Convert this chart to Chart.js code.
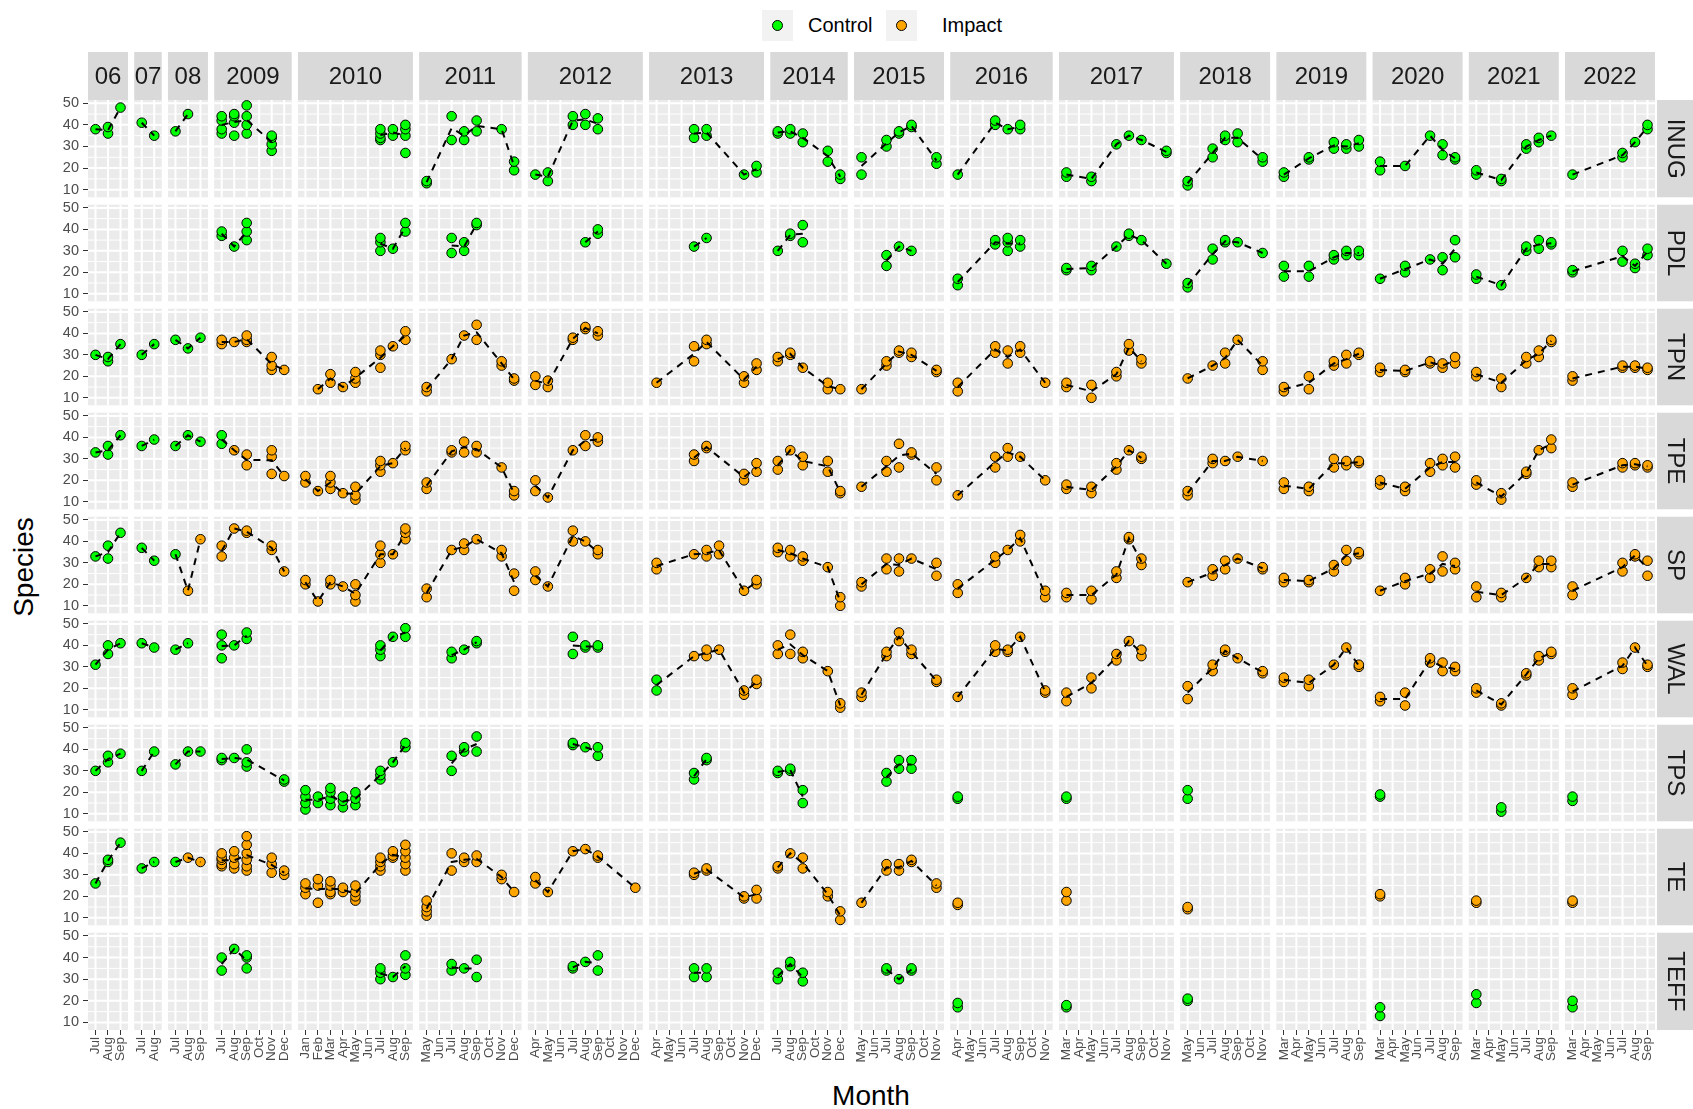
<!DOCTYPE html>
<html>
<head>
<meta charset="utf-8">
<script src="https://cdn.jsdelivr.net/npm/chart.js"></script>
<style>
  body { margin: 0; background: #ffffff; }
  #wrap { position: relative; width: 1693px; height: 1109px; overflow: hidden; background: #ffffff;
          font-family: "Liberation Sans", Arial, sans-serif; }
  #wrap canvas { position: absolute; left: 0; }
  .key { position: absolute; top: 10px; width: 31px; height: 31px; background: #F2F2F2; }
  .key span { position: absolute; left: 10px; top: 10px; width: 9px; height: 9px; border-radius: 50%; border: 1px solid #000; }
  .ltxt { position: absolute; top: 12px; font-size: 20px; color: #000; line-height: 26px; }
  .title { position: absolute; font-size: 28px; color: #000; white-space: nowrap; }
</style>
</head>
<body>
<div id="wrap">
  <div class="key" style="left:762px"><span style="background:#00FF00"></span></div>
  <div class="ltxt" style="left:808px">Control</div>
  <div class="key" style="left:886px"><span style="background:#FFA500"></span></div>
  <div class="ltxt" style="left:942px">Impact</div>
  <div class="title" style="left:24px;top:567px;transform:translate(-50%,-50%) rotate(-90deg)">Species</div>
  <div class="title" style="left:871px;top:1096px;transform:translate(-50%,-50%)">Month</div>
</div>
<script>
// facets
var years = ['06','07','08','2009','2010','2011','2012','2013','2014','2015','2016','2017','2018','2019','2020','2021','2022'];
var yearMonths = [
  ['Jul','Aug','Sep'], ['Jul','Aug'], ['Jul','Aug','Sep'],
  ['Jul','Aug','Sep','Oct','Nov','Dec'],
  ['Jan','Feb','Mar','Apr','May','Jun','Jul','Aug','Sep'],
  ['May','Jun','Jul','Aug','Sep','Oct','Nov','Dec'],
  ['Apr','May','Jun','Jul','Aug','Sep','Oct','Nov','Dec'],
  ['Apr','May','Jun','Jul','Aug','Sep','Oct','Nov','Dec'],
  ['Jul','Aug','Sep','Oct','Nov','Dec'],
  ['May','Jun','Jul','Aug','Sep','Oct','Nov'],
  ['Apr','May','Jun','Jul','Aug','Sep','Oct','Nov'],
  ['Mar','Apr','May','Jun','Jul','Aug','Sep','Oct','Nov'],
  ['May','Jun','Jul','Aug','Sep','Oct','Nov'],
  ['Mar','Apr','May','Jun','Jul','Aug','Sep'],
  ['Mar','Apr','May','Jun','Jul','Aug','Sep'],
  ['Mar','Apr','May','Jun','Jul','Aug','Sep'],
  ['Mar','Apr','May','Jun','Jul','Aug','Sep']
];
var sites = ['INUG','PDL','TPN','TPE','SP','WAL','TPS','TE','TEFF'];
var yTicks = [10, 20, 30, 40, 50];
var yMinor = [15, 25, 35, 45];

// first survey that counts as Impact, per site (null = always Control)
var impactFrom = { INUG: null, PDL: null, TPN: ['2009','Jul'], TPE: ['2009','Aug'], SP: ['08','Aug'],
                   WAL: ['2013','Jul'], TPS: null, TE: ['08','Aug'], TEFF: null };

// species counts: [year, month, samples]
var INUG = [
  ['06','Jul',[38]],['06','Aug',[36,39]],['06','Sep',[48]],
  ['07','Jul',[41]],['07','Aug',[35]],
  ['08','Jul',[37]],['08','Aug',[45]],
  ['2009','Jul',[36,38,42,44]],['2009','Aug',[35,41,44,45]],['2009','Sep',[36,40,44,49]],['2009','Nov',[28,31,34,35]],
  ['2010','Jul',[33,34,36,38]],['2010','Aug',[35,38]],['2010','Sep',[27,35,38,40]],
  ['2011','May',[13,14]],['2011','Jul',[33,44]],['2011','Aug',[33,37]],['2011','Sep',[37,42]],['2011','Nov',[38]],['2011','Dec',[19,23]],
  ['2012','Apr',[17]],['2012','May',[14,18]],['2012','Jul',[40,44]],['2012','Aug',[40,45]],['2012','Sep',[38,43]],
  ['2013','Jul',[34,38]],['2013','Aug',[35,38]],['2013','Nov',[17]],['2013','Dec',[18,21]],
  ['2014','Jul',[36,37]],['2014','Aug',[36,38]],['2014','Sep',[32,36]],['2014','Nov',[23,28]],['2014','Dec',[15,17]],
  ['2015','May',[17,25]],['2015','Jul',[30,33]],['2015','Aug',[36,37]],['2015','Sep',[39,40]],['2015','Nov',[22,25]],
  ['2016','Apr',[17]],['2016','Jul',[40,42]],['2016','Aug',[38]],['2016','Sep',[38,40]],
  ['2017','Mar',[16,18]],['2017','May',[14,16]],['2017','Jul',[31]],['2017','Aug',[35]],['2017','Sep',[33]],['2017','Nov',[27,28]],
  ['2018','May',[12,14]],['2018','Jul',[25,29]],['2018','Aug',[33,35]],['2018','Sep',[32,36]],['2018','Nov',[23,25]],
  ['2019','Mar',[16,18]],['2019','May',[24,25]],['2019','Jul',[29,32]],['2019','Aug',[29,31]],['2019','Sep',[30,33]],
  ['2020','Mar',[19,23]],['2020','May',[21]],['2020','Jul',[35]],['2020','Aug',[26,31]],['2020','Sep',[24,25]],
  ['2021','Mar',[17,19]],['2021','May',[14,15]],['2021','Jul',[29,31]],['2021','Aug',[32,34]],['2021','Sep',[35]],
  ['2022','Mar',[17]],['2022','Jul',[25,27]],['2022','Aug',[32]],['2022','Sep',[38,40]]
];
var PDL = [
  ['2009','Jul',[37,39]],['2009','Aug',[32]],['2009','Sep',[35,39,43]],
  ['2010','Jul',[30,34,36]],['2010','Aug',[31]],['2010','Sep',[39,43]],
  ['2011','Jul',[29,36]],['2011','Aug',[30,34]],['2011','Sep',[42,43]],
  ['2012','Aug',[34]],['2012','Sep',[38,40]],
  ['2013','Jul',[32]],['2013','Aug',[36]],
  ['2014','Jul',[30]],['2014','Aug',[37,38]],['2014','Sep',[34,42]],
  ['2015','Jul',[23,28]],['2015','Aug',[32]],['2015','Sep',[30]],
  ['2016','Apr',[14,17]],['2016','Jul',[33,35]],['2016','Aug',[30,34,36]],['2016','Sep',[32,35]],
  ['2017','Mar',[21,22]],['2017','May',[21,23]],['2017','Jul',[32]],['2017','Aug',[37,38]],['2017','Sep',[35]],['2017','Nov',[24]],
  ['2018','May',[13,15]],['2018','Jul',[26,31]],['2018','Aug',[34,35]],['2018','Sep',[34]],['2018','Nov',[29]],
  ['2019','Mar',[18,23]],['2019','May',[18,23]],['2019','Jul',[26,28]],['2019','Aug',[28,30]],['2019','Sep',[28,30]],
  ['2020','Mar',[17]],['2020','May',[20,23]],['2020','Jul',[26]],['2020','Aug',[21,27]],['2020','Sep',[27,35]],
  ['2021','Mar',[17,19]],['2021','May',[14]],['2021','Jul',[30,32]],['2021','Aug',[31,35]],['2021','Sep',[33,34]],
  ['2022','Mar',[20,21]],['2022','Jul',[25,30]],['2022','Aug',[22,24]],['2022','Sep',[28,31]]
];
var TPN = [
  ['06','Jul',[30]],['06','Aug',[27,29]],['06','Sep',[35]],
  ['07','Jul',[30]],['07','Aug',[35]],
  ['08','Jul',[37]],['08','Aug',[33]],['08','Sep',[38]],
  ['2009','Jul',[35,37]],['2009','Aug',[36]],['2009','Sep',[36,37,39]],['2009','Nov',[23,25,29]],['2009','Dec',[23]],
  ['2010','Feb',[14]],['2010','Mar',[17,21]],['2010','Apr',[15]],['2010','May',[17,19,22]],['2010','Jul',[24,30,32]],['2010','Aug',[34]],['2010','Sep',[37,41]],
  ['2011','May',[13,15]],['2011','Jul',[28]],['2011','Aug',[39]],['2011','Sep',[37,44]],['2011','Nov',[25,27]],['2011','Dec',[18,19]],
  ['2012','Apr',[16,20]],['2012','May',[15,18]],['2012','Jul',[37,38]],['2012','Aug',[42,43]],['2012','Sep',[39,41]],
  ['2013','Apr',[17]],['2013','Jul',[27,34]],['2013','Aug',[35,37]],['2013','Nov',[17,20]],['2013','Dec',[23,26]],
  ['2014','Jul',[27,29]],['2014','Aug',[30,31]],['2014','Sep',[24]],['2014','Nov',[14,17]],['2014','Dec',[14]],
  ['2015','May',[14]],['2015','Jul',[25,27]],['2015','Aug',[31,32]],['2015','Sep',[29,31]],['2015','Nov',[22,23]],
  ['2016','Apr',[13,17]],['2016','Jul',[31,34]],['2016','Aug',[26,32]],['2016','Sep',[31,34]],['2016','Nov',[17]],
  ['2017','Mar',[15,17]],['2017','May',[10,16]],['2017','Jul',[20,22]],['2017','Aug',[32,35]],['2017','Sep',[26,28]],
  ['2018','May',[19]],['2018','Jul',[25]],['2018','Aug',[26,31]],['2018','Sep',[37]],['2018','Nov',[23,27]],
  ['2019','Mar',[13,15]],['2019','May',[14,20]],['2019','Jul',[25,27]],['2019','Aug',[26,30]],['2019','Sep',[30,31]],
  ['2020','Mar',[22,24]],['2020','May',[22,23]],['2020','Jul',[26,27]],['2020','Aug',[24,26]],['2020','Sep',[26,29]],
  ['2021','Mar',[20,22]],['2021','May',[15,19]],['2021','Jul',[26,29]],['2021','Aug',[29,32]],['2021','Sep',[36,37]],
  ['2022','Mar',[18,20]],['2022','Jul',[24,25]],['2022','Aug',[24,25]],['2022','Sep',[23,24]]
];
var TPE = [
  ['06','Jul',[33]],['06','Aug',[32,36]],['06','Sep',[41]],
  ['07','Jul',[36]],['07','Aug',[39]],
  ['08','Jul',[36]],['08','Aug',[41]],['08','Sep',[38]],
  ['2009','Jul',[37,41]],['2009','Aug',[34]],['2009','Sep',[27,32]],['2009','Nov',[23,31,34]],['2009','Dec',[22]],
  ['2010','Jan',[19,22]],['2010','Feb',[15]],['2010','Mar',[16,19,22]],['2010','Apr',[14]],['2010','May',[11,13,17]],['2010','Jul',[24,27,29]],['2010','Aug',[28]],['2010','Sep',[34,36]],
  ['2011','May',[16,19]],['2011','Jul',[33,34]],['2011','Aug',[33,38]],['2011','Sep',[33,36]],['2011','Nov',[26]],['2011','Dec',[13,15]],
  ['2012','Apr',[15,20]],['2012','May',[12]],['2012','Jul',[34]],['2012','Aug',[36,41]],['2012','Sep',[38,40]],
  ['2013','Jul',[29,32]],['2013','Aug',[35,36]],['2013','Nov',[20,23]],['2013','Dec',[24,28]],
  ['2014','Jul',[25,29]],['2014','Aug',[34]],['2014','Sep',[27,31]],['2014','Nov',[24,29]],['2014','Dec',[14,15]],
  ['2015','May',[17]],['2015','Jul',[24,29]],['2015','Aug',[26,37]],['2015','Sep',[32,33]],['2015','Nov',[20,26]],
  ['2016','Apr',[13]],['2016','Jul',[26,31]],['2016','Aug',[31,35]],['2016','Sep',[31]],['2016','Nov',[20]],
  ['2017','Mar',[16,18]],['2017','May',[14,17]],['2017','Jul',[25,28]],['2017','Aug',[34]],['2017','Sep',[30,31]],
  ['2018','May',[13,15]],['2018','Jul',[28,30]],['2018','Aug',[29]],['2018','Sep',[31]],['2018','Nov',[29]],
  ['2019','Mar',[16,19]],['2019','May',[15,17]],['2019','Jul',[26,30]],['2019','Aug',[27,29]],['2019','Sep',[28,29]],
  ['2020','Mar',[18,20]],['2020','May',[15,17]],['2020','Jul',[24,28]],['2020','Aug',[27,30]],['2020','Sep',[26,31]],
  ['2021','Mar',[18,20]],['2021','May',[11,14]],['2021','Jul',[23,24]],['2021','Aug',[34]],['2021','Sep',[35,39]],
  ['2022','Mar',[17,19]],['2022','Jul',[26,28]],['2022','Aug',[27,28]],['2022','Sep',[26,27]]
];
var SP = [
  ['06','Jul',[33]],['06','Aug',[32,38]],['06','Sep',[44]],
  ['07','Jul',[37]],['07','Aug',[31]],
  ['08','Jul',[34]],['08','Aug',[17]],['08','Sep',[41]],
  ['2009','Jul',[33,38]],['2009','Aug',[46]],['2009','Sep',[44,45]],['2009','Nov',[36,38]],['2009','Dec',[26]],
  ['2010','Jan',[20,22]],['2010','Feb',[12]],['2010','Mar',[20,22]],['2010','Apr',[19]],['2010','May',[12,15,20]],['2010','Jul',[30,34,38]],['2010','Aug',[34]],['2010','Sep',[41,44,46]],
  ['2011','May',[14,18]],['2011','Jul',[36]],['2011','Aug',[36,39]],['2011','Sep',[41]],['2011','Nov',[33,36]],['2011','Dec',[17,25]],
  ['2012','Apr',[22,26]],['2012','May',[19]],['2012','Jul',[40,45]],['2012','Aug',[40]],['2012','Sep',[34,36]],
  ['2013','Apr',[27,30]],['2013','Jul',[34]],['2013','Aug',[33,36]],['2013','Sep',[34,38]],['2013','Nov',[17]],['2013','Dec',[20,22]],
  ['2014','Jul',[35,37]],['2014','Aug',[33,36]],['2014','Sep',[31,33]],['2014','Nov',[28]],['2014','Dec',[10,14]],
  ['2015','May',[19,21]],['2015','Jul',[27,32]],['2015','Aug',[26,32]],['2015','Sep',[32]],['2015','Nov',[24,30]],
  ['2016','Apr',[16,20]],['2016','Jul',[30,33]],['2016','Aug',[36]],['2016','Sep',[40,43]],['2016','Nov',[14,17]],
  ['2017','Mar',[14,16]],['2017','May',[13,17]],['2017','Jul',[23,26]],['2017','Aug',[41,42]],['2017','Sep',[29,32]],
  ['2018','May',[21]],['2018','Jul',[24,27]],['2018','Aug',[27,31]],['2018','Sep',[32]],['2018','Nov',[27,28]],
  ['2019','Mar',[21,23]],['2019','May',[21,22]],['2019','Jul',[26,29]],['2019','Aug',[31,36]],['2019','Sep',[34,35]],
  ['2020','Mar',[17]],['2020','May',[20,23]],['2020','Jul',[23,27]],['2020','Aug',[26,33]],['2020','Sep',[27,30]],
  ['2021','Mar',[14,19]],['2021','May',[14,16]],['2021','Jul',[23]],['2021','Aug',[28,31]],['2021','Sep',[28,31]],
  ['2022','Mar',[15,19]],['2022','Jul',[26,30]],['2022','Aug',[33,34]],['2022','Sep',[24,31]]
];
var WAL = [
  ['06','Jul',[31]],['06','Aug',[36,40]],['06','Sep',[41]],
  ['07','Jul',[41]],['07','Aug',[39]],
  ['08','Jul',[38]],['08','Aug',[41]],
  ['2009','Jul',[34,40,45]],['2009','Aug',[40]],['2009','Sep',[43,46]],
  ['2010','Jul',[35,38,40]],['2010','Aug',[44]],['2010','Sep',[44,48]],
  ['2011','Jul',[34,37]],['2011','Aug',[38]],['2011','Sep',[41,42]],
  ['2012','Jul',[36,44]],['2012','Aug',[39,40]],['2012','Sep',[39,40]],
  ['2013','Apr',[19,24]],['2013','Jul',[35]],['2013','Aug',[35,38]],['2013','Sep',[38]],['2013','Nov',[17,19]],['2013','Dec',[22,24]],
  ['2014','Jul',[36,40]],['2014','Aug',[36,45]],['2014','Sep',[34,37]],['2014','Nov',[28]],['2014','Dec',[11,13]],
  ['2015','May',[16,18]],['2015','Jul',[35,37]],['2015','Aug',[42,46]],['2015','Sep',[36,38]],['2015','Nov',[23,24]],
  ['2016','Apr',[16]],['2016','Jul',[37,40]],['2016','Aug',[37,38]],['2016','Sep',[44]],['2016','Nov',[18,19]],
  ['2017','Mar',[14,18]],['2017','May',[20,25]],['2017','Jul',[33,36]],['2017','Aug',[42]],['2017','Sep',[35,38]],
  ['2018','May',[15,21]],['2018','Jul',[28,31]],['2018','Aug',[37,38]],['2018','Sep',[34]],['2018','Nov',[27,28]],
  ['2019','Mar',[23,25]],['2019','May',[21,24]],['2019','Jul',[31]],['2019','Aug',[39]],['2019','Sep',[30,31]],
  ['2020','Mar',[14,16]],['2020','May',[12,18]],['2020','Jul',[32,34]],['2020','Aug',[28,32]],['2020','Sep',[28,30]],
  ['2021','Mar',[18,20]],['2021','May',[12,13]],['2021','Jul',[26,27]],['2021','Aug',[33,35]],['2021','Sep',[36,37]],
  ['2022','Mar',[17,20]],['2022','Jul',[29,32]],['2022','Aug',[39]],['2022','Sep',[30,31]]
];
var TPS = [
  ['06','Jul',[30]],['06','Aug',[34,37]],['06','Sep',[38]],
  ['07','Jul',[30]],['07','Aug',[39]],
  ['08','Jul',[33]],['08','Aug',[39]],['08','Sep',[39]],
  ['2009','Jul',[35,36]],['2009','Aug',[36]],['2009','Sep',[32,34,40]],['2009','Dec',[25,26]],
  ['2010','Jan',[12,15,18,21]],['2010','Feb',[15,18]],['2010','Mar',[14,17,20,22]],['2010','Apr',[13,16,18]],['2010','May',[14,17,20]],['2010','Jul',[26,28,30]],['2010','Aug',[34]],['2010','Sep',[41,43]],
  ['2011','Jul',[30,37]],['2011','Aug',[39,41]],['2011','Sep',[39,46]],
  ['2012','Jul',[42,43]],['2012','Aug',[41]],['2012','Sep',[37,41]],
  ['2013','Jul',[26,29]],['2013','Aug',[35,36]],
  ['2014','Jul',[29,30]],['2014','Aug',[30,31]],['2014','Sep',[15,21]],
  ['2015','Jul',[25,29]],['2015','Aug',[31,35]],['2015','Sep',[31,35]],
  ['2016','Apr',[17,18]],
  ['2017','Mar',[17,18]],
  ['2018','May',[17,21]],
  ['2020','Mar',[18,19]],
  ['2021','May',[11,13]],
  ['2022','Mar',[16,18]]
];
var TE = [
  ['06','Jul',[26]],['06','Aug',[36,37]],['06','Sep',[45]],
  ['07','Jul',[33]],['07','Aug',[36]],
  ['08','Jul',[36]],['08','Aug',[38]],['08','Sep',[36]],
  ['2009','Jul',[34,35,37,38,40]],['2009','Aug',[33,35,38,41]],['2009','Sep',[32,34,37,40,44,48]],['2009','Nov',[31,35,38]],['2009','Dec',[30,32]],
  ['2010','Jan',[21,24,26]],['2010','Feb',[17,25,28]],['2010','Mar',[21,22,25,27]],['2010','Apr',[22,24]],['2010','May',[18,20,22,25]],['2010','Jul',[32,34,36,38]],['2010','Aug',[38,39,41]],['2010','Sep',[32,35,38,41,44]],
  ['2011','May',[11,13,15,18]],['2011','Jul',[32,40]],['2011','Aug',[36,38]],['2011','Sep',[36,39]],['2011','Nov',[28,30]],['2011','Dec',[22]],
  ['2012','Apr',[26,29]],['2012','May',[22]],['2012','Jul',[41]],['2012','Aug',[42]],['2012','Sep',[38,39]],['2012','Dec',[24]],
  ['2013','Jul',[30,31]],['2013','Aug',[32,33]],['2013','Nov',[19,20]],['2013','Dec',[19,23]],
  ['2014','Jul',[33,34]],['2014','Aug',[40]],['2014','Sep',[33,38]],['2014','Nov',[20,22]],['2014','Dec',[9,13]],
  ['2015','May',[17]],['2015','Jul',[32,35]],['2015','Aug',[32,35]],['2015','Sep',[36,37]],['2015','Nov',[24,26]],
  ['2016','Apr',[16,17]],
  ['2017','Mar',[18,22]],
  ['2018','May',[14,15]],
  ['2020','Mar',[20,21]],
  ['2021','Mar',[17,18]],
  ['2022','Mar',[17,18]]
];
var TEFF = [
  ['2009','Jul',[34,40]],['2009','Aug',[44]],['2009','Sep',[35,40,41]],
  ['2010','Jul',[30,33,35]],['2010','Aug',[31]],['2010','Sep',[32,35,41]],
  ['2011','Jul',[34,37]],['2011','Aug',[35]],['2011','Sep',[31,39]],
  ['2012','Jul',[35,36]],['2012','Aug',[38]],['2012','Sep',[34,41]],
  ['2013','Jul',[31,35]],['2013','Aug',[31,35]],
  ['2014','Jul',[30,33]],['2014','Aug',[36,38]],['2014','Sep',[29,33]],
  ['2015','Jul',[34,35]],['2015','Aug',[30]],['2015','Sep',[34,35]],
  ['2016','Apr',[17,19]],
  ['2017','Mar',[17,18]],
  ['2018','May',[20,21]],
  ['2020','Mar',[13,17]],
  ['2021','Mar',[19,23]],
  ['2022','Mar',[17,20]]
];
var siteData = { INUG: INUG, PDL: PDL, TPN: TPN, TPE: TPE, SP: SP, WAL: WAL, TPS: TPS, TE: TE, TEFF: TEFF };

var CAL = ['Jan','Feb','Mar','Apr','May','Jun','Jul','Aug','Sep','Oct','Nov','Dec'];
var GAP = 0.5;          // panel spacing in month units
var ROW_TOP = 100, ROW_PITCH = 104, PANEL_H = 98, PAD = 12, STRIP_H = 48, XAXIS_H = 45;

// panel ranges on one continuous x axis (discrete months with 0.6 expansion each side)
var panels = [];
var cursor = 0;
years.forEach(function (yr, i) {
  var n = yearMonths[i].length;
  var start = cursor;
  var pos = yearMonths[i].map(function (m, j) { return start + 0.6 + j; });
  var end = start + n - 1 + 1.2;
  panels.push({ year: yr, start: start, end: end, pos: pos });
  cursor = end + GAP;
});
var X_MAX = cursor - GAP;

var tickPos = [], tickLab = [];
panels.forEach(function (p, i) {
  p.pos.forEach(function (v, j) { tickPos.push(v); tickLab.push(yearMonths[i][j]); });
});

function xOf(yr, m) {
  var i = years.indexOf(yr);
  return panels[i].start + 0.6 + yearMonths[i].indexOf(m);
}
function ordOf(yr, m) { return years.indexOf(yr) * 12 + CAL.indexOf(m); }

var facetPlugin = {
  id: 'facets',
  beforeDatasetsDraw: function (chart, args, opts) {
    var ctx = chart.ctx, a = chart.chartArea, x = chart.scales.x, y = chart.scales.y;
    ctx.save();
    panels.forEach(function (p) {
      var x0 = x.getPixelForValue(p.start), x1 = x.getPixelForValue(p.end);
      ctx.fillStyle = '#EBEBEB';
      ctx.fillRect(x0, a.top, x1 - x0, a.bottom - a.top);
      ctx.strokeStyle = '#FFFFFF';
      ctx.lineWidth = 1;
      yMinor.forEach(function (v) {
        var py = y.getPixelForValue(v);
        ctx.beginPath(); ctx.moveTo(x0, py); ctx.lineTo(x1, py); ctx.stroke();
      });
      ctx.lineWidth = 2;
      yTicks.forEach(function (v) {
        var py = y.getPixelForValue(v);
        ctx.beginPath(); ctx.moveTo(x0, py); ctx.lineTo(x1, py); ctx.stroke();
      });
      p.pos.forEach(function (v) {
        var px = x.getPixelForValue(v);
        ctx.beginPath(); ctx.moveTo(px, a.top); ctx.lineTo(px, a.bottom); ctx.stroke();
      });
    });
    ctx.restore();
  },
  afterDraw: function (chart, args, opts) {
    var ctx = chart.ctx, a = chart.chartArea, x = chart.scales.x;
    ctx.save();
    ctx.font = '24px "Liberation Sans", Arial, sans-serif';
    ctx.textAlign = 'center';
    ctx.textBaseline = 'middle';
    // site strip on the right
    ctx.fillStyle = '#D9D9D9';
    ctx.fillRect(a.right + 2, a.top, chart.width - a.right, a.bottom - a.top);
    ctx.fillStyle = '#1A1A1A';
    ctx.translate(a.right + 21, (a.top + a.bottom) / 2);
    ctx.rotate(Math.PI / 2);
    ctx.fillText(opts.site, 0, 1);
    ctx.setTransform(1, 0, 0, 1, 0, 0);
    // year strips on top
    if (opts.years) {
      panels.forEach(function (p) {
        var x0 = x.getPixelForValue(p.start), x1 = x.getPixelForValue(p.end);
        ctx.fillStyle = '#D9D9D9';
        ctx.fillRect(x0, a.top - STRIP_H, x1 - x0, STRIP_H);
        ctx.fillStyle = '#1A1A1A';
        ctx.fillText(p.year, (x0 + x1) / 2, a.top - STRIP_H / 2 + 1);
      });
    }
    ctx.restore();
  }
};

var wrap = document.getElementById('wrap');

sites.forEach(function (site, r) {
  var rows = siteData[site];
  var first = r === 0, last = r === sites.length - 1;
  var padTop = first ? PAD + STRIP_H : PAD;
  var padBottom = last ? 0 : PAD;
  var h = padTop + PANEL_H + (last ? XAXIS_H : PAD);

  var canvas = document.createElement('canvas');
  canvas.width = 1693;
  canvas.height = h;
  canvas.style.top = (ROW_TOP + r * ROW_PITCH - padTop) + 'px';
  wrap.appendChild(canvas);

  var control = [], impact = [], means = [];
  var lastYear = null;
  rows.forEach(function (row) {
    var xv = xOf(row[0], row[1]);
    var isImpact = impactFrom[site] && ordOf(row[0], row[1]) >= ordOf(impactFrom[site][0], impactFrom[site][1]);
    row[2].forEach(function (v) { (isImpact ? impact : control).push({ x: xv, y: v }); });
    if (lastYear !== null && lastYear !== row[0]) {
      var pi = years.indexOf(row[0]);
      means.push({ x: panels[pi].start - GAP / 2, y: null });
    }
    lastYear = row[0];
    var sum = row[2].reduce(function (s, v) { return s + v; }, 0);
    means.push({ x: xv, y: sum / row[2].length });
  });

  new Chart(canvas.getContext('2d'), {
    type: 'scatter',
    data: {
      datasets: [
        { type: 'line', data: means, borderColor: '#000000', borderWidth: 2, borderDash: [7, 6],
          pointRadius: 0, spanGaps: false, tension: 0, fill: false, order: 0, clip: false },
        { label: 'Control', data: control, backgroundColor: '#00FF00', borderColor: '#000000',
          borderWidth: 1, pointRadius: 4.8, order: 1, clip: false },
        { label: 'Impact', data: impact, backgroundColor: '#FFA500', borderColor: '#000000',
          borderWidth: 1, pointRadius: 4.8, order: 1, clip: false }
      ]
    },
    options: {
      responsive: false,
      animation: false,
      devicePixelRatio: 1,
      events: [],
      layout: { padding: { top: padTop, bottom: padBottom, left: 0, right: 38 } },
      plugins: {
        legend: { display: false },
        tooltip: { enabled: false },
        facets: { site: site, years: first }
      },
      scales: {
        x: {
          type: 'linear', min: 0, max: X_MAX, display: last,
          afterBuildTicks: function (s) { s.ticks = tickPos.map(function (v) { return { value: v }; }); },
          afterFit: function (s) { s.height = last ? XAXIS_H : 0; },
          ticks: {
            autoSkip: false, minRotation: 90, maxRotation: 90, padding: 2,
            color: '#4D4D4D', font: { family: '"Liberation Sans", Arial, sans-serif', size: 13.5 },
            callback: function (v, i) { return tickLab[i]; }
          },
          grid: { drawOnChartArea: false, drawTicks: true, tickLength: 5, color: '#333333', lineWidth: 1 },
          border: { display: false }
        },
        y: {
          type: 'linear', min: 6.5, max: 51.5,
          afterBuildTicks: function (s) { s.ticks = yTicks.map(function (v) { return { value: v }; }); },
          afterFit: function (s) { s.width = 88; },
          ticks: {
            autoSkip: false, padding: 4, color: '#4D4D4D',
            font: { family: '"Liberation Sans", Arial, sans-serif', size: 14.5 }
          },
          grid: { drawOnChartArea: false, drawTicks: true, tickLength: 5, color: '#333333', lineWidth: 1 },
          border: { display: false }
        }
      }
    },
    plugins: [facetPlugin]
  });
});
</script>
</body>
</html>
